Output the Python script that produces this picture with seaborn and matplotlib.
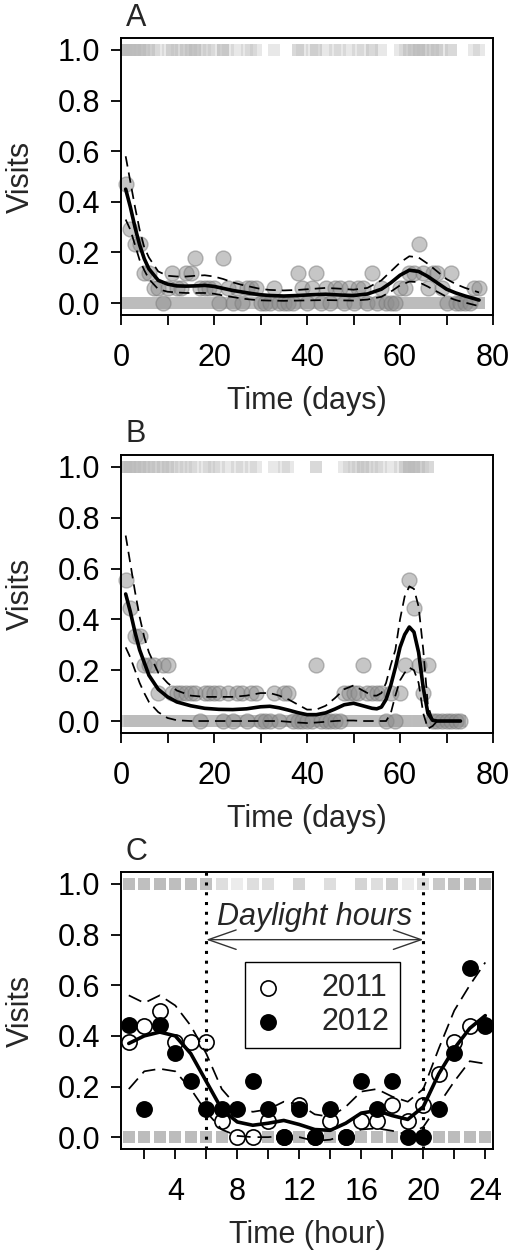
import numpy as np
import pandas as pd
import matplotlib
matplotlib.use("Agg")
import matplotlib.pyplot as plt
from matplotlib.ticker import FixedLocator
import seaborn as sns

# ---------------- data ----------------
# Panel A: visits per day, out of 17 cameras
days_a = list(range(1, 78))
visits_a = [8, 5, 4, 4, 2, 2, 1, 1, 0, 1,
            2, 1, 1, 2, 2, 3, 1, 1, 1, 1,
            0, 3, 1, 0, 1, 0, 1, 1, 1, 0,
            0, 0, 1, 0, 0, 0, 0, 2, 1, 0,
            1, 2, 0, 1, 0, 1, 1, 0, 1, 0,
            1, 1, 0, 2, 0, 1, 0, 0, 0, 1,
            1, 2, 2, 4, 2, 1, 2, 2, 1, 0,
            2, 0, 0, 0, 0, 1, 1]
n_a = 17
# GAM fit with 95% band
fit_x_a = [1, 2, 3, 4, 5, 6, 8, 10, 12, 14, 16, 18, 20, 22, 24, 26, 28, 30, 32, 35,
           38, 41, 44, 47, 50, 53, 56, 58, 60, 62, 64, 66, 68, 70, 72, 74, 77]
fit_a = [.45, .38, .30, .23, .175, .135, .09, .075, .068, .067, .068, .07, .066, .058, .05, .044, .038, .033, .03, .028,
         .03, .033, .035, .032, .03, .036, .055, .08, .11, .13, .125, .105, .08, .055, .04, .028, .012]
upr_a = [.58, .48, .38, .29, .22, .18, .125, .108, .105, .105, .108, .11, .105, .095, .082, .072, .064, .056, .052, .05,
         .052, .056, .06, .057, .053, .06, .09, .125, .16, .185, .18, .155, .125, .095, .075, .06, .042]
lwr_a = [.33, .29, .23, .17, .13, .095, .055, .045, .042, .04, .04, .04, .037, .03, .024, .018, .014, .011, .01, .009,
         .01, .011, .012, .011, .01, .014, .025, .045, .07, .085, .083, .065, .045, .025, .012, .002, -.012]

# Panel B: visits per day, out of 9 cameras
days_b = list(range(1, 74))
visits_b = [5, 4, 3, 3, 2, 2, 2, 1, 2, 2,
            1, 1, 1, 1, 1, 1, 0, 1, 1, 1,
            1, 0, 1, 0, 1, 1, 0, 1, 1, 0,
            0, 0, 1, 0, 1, 1, 0, 0, 0, 0,
            0, 2, 0, 0, 0, 0, 0, 1, 1, 1,
            1, 2, 1, 1, 1, 1, 0, 1, 0, 1,
            2, 5, 4, 2, 1, 2, 0, 0, 0, 0,
            0, 0, 0]
n_b = 9
fit_x_b = [1, 2, 3, 4, 5, 6, 8, 10, 12, 15, 18, 21, 24, 27, 30, 32, 34, 36, 38, 40, 42, 44,
           46, 48, 50, 52, 54, 55, 56, 57, 58, 59, 60, 61, 62, 63, 64, 65, 66, 67, 68, 70, 73]
fit_b = [.50, .43, .35, .28, .23, .18, .125, .095, .075, .06, .05, .046, .045, .048, .056, .058, .052, .043, .033, .025, .025, .032,
         .047, .064, .07, .06, .05, .048, .055, .085, .14, .21, .29, .34, .37, .35, .27, .13, .03, .003, 0, 0, 0]
upr_b = [.73, .62, .51, .41, .33, .27, .19, .15, .12, .10, .095, .095, .095, .10, .11, .11, .10, .085, .065, .045, .045, .06,
         .09, .125, .14, .12, .10, .10, .11, .15, .22, .28, .40, .49, .53, .52, .45, .28, .06, .005, 0, 0, 0]
lwr_b = [.29, .25, .20, .15, .11, .075, .035, .012, .003, 0, 0, 0, 0, 0, 0, 0, 0, -.003, -.006, -.008, -.006, -.003,
         0, .002, .002, 0, 0, 0, 0, 0, .03, .10, .16, .19, .21, .20, .15, .03, -.03, -.02, 0, 0, 0]

# Panel C: visits per hour of day, 2011 (16 cameras) and 2012 (9 cameras)
hours = list(range(1, 25))
visits_2011 = [6, 7, 8, 6, 6, 6, 1, 0, 0, 1, 0, 2, 0, 1, 0, 1, 1, 2, 1, 2, 4, 6, 7, 7]
visits_2012 = [4, 1, 4, 3, 2, 1, 1, 1, 2, 1, 0, 1, 0, 1, 0, 2, 1, 2, 0, 0, 1, 3, 6, 4]
n_2011 = 16
n_2012 = 9
fit_c = [.37, .40, .415, .40, .33, .22, .11, .06, .047, .055, .066, .05, .03, .027, .055, .095, .105, .085, .07, .12, .25, .35, .43, .48]
upr_c = [.56, .53, .56, .52, .44, .33, .19, .12, .10, .11, .14, .13, .09, .08, .12, .18, .19, .16, .14, .19, .35, .50, .60, .69]
lwr_c = [.19, .26, .27, .26, .19, .10, .03, .005, 0, 0, .005, 0, -.015, -.01, .01, .03, .035, .025, .01, .04, .13, .22, .30, .29]
daylight = [6, 20]

# ---------------- style ----------------
sns.set_style("ticks")
plt.rcParams['font.family'] = ['Liberation Sans', 'DejaVu Sans']
FS = 22
BAND = '#bcbcbc'


def raw_visits(xs, counts, n):
    # expand daily counts into 0/1 records (one per camera)
    x = np.repeat(xs, n)
    y = np.concatenate([[1] * c + [0] * (n - c) for c in counts])
    return pd.DataFrame({'x': x, 'visit': y})


def style_axis(ax, letter):
    ax.set_ylim(-0.047, 1.047)
    ax.set_yticks([0, 0.2, 0.4, 0.6, 0.8, 1.0])
    ax.set_yticklabels([f'{t:.1f}' for t in [0, 0.2, 0.4, 0.6, 0.8, 1.0]])
    for s in ax.spines.values():
        s.set_visible(True)
        s.set_linewidth(1.4)
        s.set_color('black')
    ax.tick_params(axis='both', direction='out', length=7, width=1.3, colors='black')
    ax.tick_params(axis='x', labelsize=FS, pad=13)
    ax.tick_params(axis='y', labelsize=FS, pad=8)
    ax.set_ylabel('Visits', fontsize=FS)
    ax.yaxis.set_label_coords(-0.228, 0.5)
    ax.xaxis.set_label_coords(0.5, -0.255)
    ax.text(0.013, 1.045, letter, transform=ax.transAxes, fontsize=FS, va='baseline', ha='left')


def day_panel(ax, days, visits, n, fx, fit, upr, lwr, letter):
    raw = raw_visits(days, visits, n)
    sns.scatterplot(data=raw, x='x', y='visit', marker='s', s=75, color=BAND, alpha=0.33,
                    linewidth=0, legend=False, ax=ax)
    prop = pd.DataFrame({'x': days, 'p': np.array(visits) / n})
    sns.scatterplot(data=prop, x='x', y='p', s=115, color='#8f8f8f', alpha=0.5,
                    edgecolor='#7a7a7a', linewidth=1, legend=False, ax=ax, clip_on=False)
    sns.lineplot(x=fx, y=fit, color='black', lw=2.6, ax=ax)
    for band in (upr, lwr):
        sns.lineplot(x=fx, y=band, color='black', lw=1.25, ax=ax)
        ax.lines[-1].set_dashes((6, 3.5))
    ax.set_xlim(0, 80)
    ax.xaxis.set_major_locator(FixedLocator(range(0, 81, 10)))
    ax.set_xticklabels([str(t) if t % 20 == 0 else '' for t in range(0, 81, 10)])
    ax.set_xlabel('Time (days)', fontsize=FS)
    style_axis(ax, letter)


fig = plt.figure(figsize=(5.1, 12.51), dpi=100)
ax_a = fig.add_axes([0.2373, 0.7482, 0.7294, 0.2214])
ax_b = fig.add_axes([0.2373, 0.4141, 0.7294, 0.2222])
ax_c = fig.add_axes([0.2373, 0.0815, 0.7294, 0.2214])

day_panel(ax_a, days_a, visits_a, n_a, fit_x_a, fit_a, upr_a, lwr_a, 'A')
day_panel(ax_b, days_b, visits_b, n_b, fit_x_b, fit_b, upr_b, lwr_b, 'B')

# ---- panel C: hour of day ----
raw_c = pd.concat([raw_visits(hours, visits_2011, n_2011), raw_visits(hours, visits_2012, n_2012)])
sns.scatterplot(data=raw_c, x='x', y='visit', marker='s', s=85, color=BAND, alpha=0.28,
                linewidth=0, legend=False, ax=ax_c)
for d in daylight:
    ax_c.axvline(d, color='black', lw=2.2, linestyle=(0, (1, 2.2)))
ax_c.annotate('', xy=(daylight[0], 0.78), xytext=(daylight[1], 0.78),
              arrowprops=dict(arrowstyle='<->,head_length=1.0,head_width=0.35', lw=1,
                              color='#333333', shrinkA=0, shrinkB=0, mutation_scale=20))
ax_c.text(np.mean(daylight), 0.87, 'Daylight hours', style='italic', fontsize=FS,
          ha='center', va='center')

sns.scatterplot(x=hours, y=np.array(visits_2011) / n_2011, s=120, color='white',
                edgecolor='black', linewidth=1.2, label='2011', ax=ax_c)
sns.scatterplot(x=hours, y=np.array(visits_2012) / n_2012, s=120, color='black',
                edgecolor='black', linewidth=1.2, label='2012', ax=ax_c)
sns.lineplot(x=hours, y=fit_c, color='black', lw=2.6, ax=ax_c)
for band in (upr_c, lwr_c):
    sns.lineplot(x=hours, y=band, color='black', lw=1.25, ax=ax_c)
    ax_c.lines[-1].set_dashes((8, 4))

ax_c.set_xlim(0.5, 24.5)
ax_c.xaxis.set_major_locator(FixedLocator(range(2, 25, 2)))
ax_c.set_xticklabels([str(t) if t % 4 == 0 else '' for t in range(2, 25, 2)])
ax_c.set_xlabel('Time (hour)', fontsize=FS)
style_axis(ax_c, 'C')

leg = ax_c.legend(loc='upper left', bbox_to_anchor=(0.333, 0.675), fontsize=FS,
                  frameon=True, fancybox=False, framealpha=1, borderpad=0.35,
                  labelspacing=0.15, handlelength=0.8, handletextpad=1.35, borderaxespad=0)
leg.get_frame().set_edgecolor('black')
leg.get_frame().set_linewidth(1)

fig.savefig('out.png', dpi=100, facecolor='white')
